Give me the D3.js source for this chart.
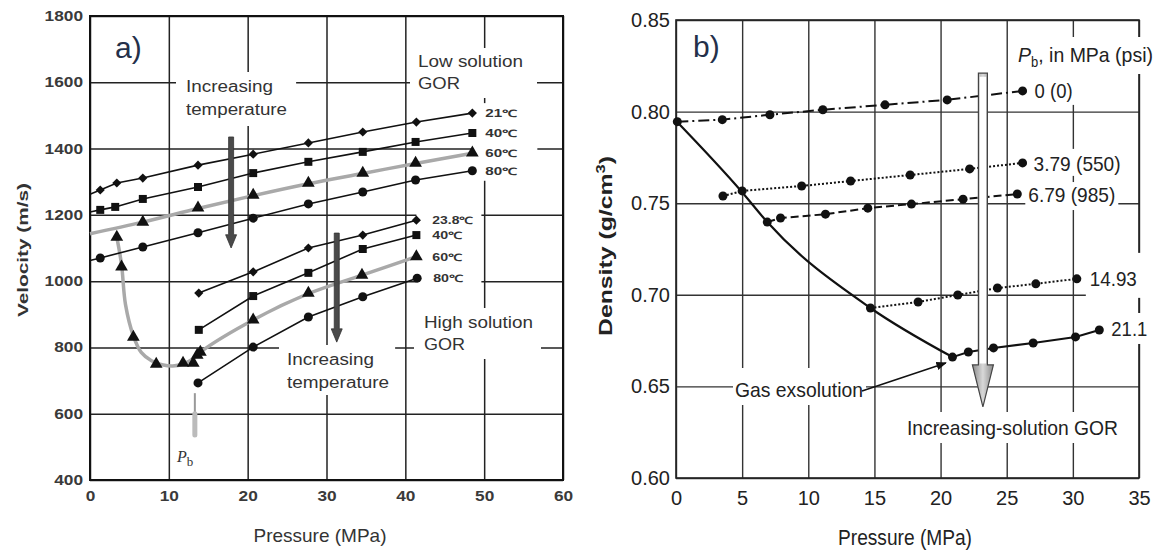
<!DOCTYPE html>
<html><head><meta charset="utf-8">
<script src="https://cdn.jsdelivr.net/npm/d3@7"></script>
<style>body{margin:0;background:#fff}svg{display:block}</style>
</head><body>
<svg id="c" width="1170" height="554"></svg>
<script>
// ---------- Panel a) velocity data ----------
const velXTicks = [0,10,20,30,40,50,60];
const velYTicks = [400,600,800,1000,1200,1400,1600,1800];
const low21 = [[1.3,1275],[3.4,1296],[6.7,1311],[13.7,1350],[20.7,1383],[27.7,1417],[34.6,1450],[41.4,1480],[48.5,1507]];
const low40 = [[1.3,1215],[3.2,1224],[6.7,1248],[13.7,1284],[20.7,1326],[27.7,1360],[34.6,1390],[41.3,1420],[48.5,1447]];
const low60 = [[6.7,1178],[13.7,1221],[20.7,1260],[27.7,1296],[34.6,1326],[41.3,1356],[48.5,1387]];
const low60Trend = [[0,1143],[6.7,1178],[13.7,1219],[20.7,1258],[27.7,1294],[34.6,1325],[41.3,1355],[48.5,1386]];
const low80 = [[1.3,1070],[6.7,1103],[13.7,1146],[20.7,1190],[27.7,1233],[34.6,1269],[41.3,1305],[48.5,1333]];
const high23 = [[13.8,964],[20.7,1028],[27.7,1100],[34.6,1139],[41.4,1184]];
const high40 = [[13.8,853],[20.7,955],[27.7,1025],[34.6,1097],[41.4,1139]];
const high60 = [[3.4,1133],[4.0,1043],[5.5,831],[8.4,750],[11.8,753],[13.1,753],[13.6,777],[14,786],[20.7,883],[27.7,964],[34.5,1018],[41.4,1074]];
const high60Trend = [[3.4,1133],[4.0,1050],[4.5,930],[5.5,835],[6.5,785],[7.8,760],[9.3,747],[10.5,744],[11.8,750],[13.1,766],[14,786],[20.7,883],[27.7,962],[34.5,1018],[41.4,1074]];
const high80 = [[13.7,693],[20.7,801],[27.7,892],[34.6,953],[41.5,1009]];
const lowLabels = ["21\u2103","40\u2103","60\u2103","80\u2103"];
const highLabels = ["23.8\u2103","40\u2103","60\u2103","80\u2103"];
const bubblePressure = 13.3;

// ---------- Panel b) density data ----------
const denXTicks = [0,5,10,15,20,25,30,35];
const denYTicks = [0.60,0.65,0.70,0.75,0.80,0.85];
const pb0    = [[0.1,0.7945],[3.5,0.7956],[7.1,0.7983],[11.1,0.801],[15.8,0.8037],[20.5,0.8064],[26.2,0.8113]];
const pb379  = [[3.55,0.7539],[5,0.7567],[9.5,0.7594],[13.2,0.7621],[17.7,0.7654],[22.2,0.7687],[26.2,0.772]];
const pb679  = [[6.9,0.7397],[7.9,0.7419],[11.3,0.744],[14.5,0.7473],[17.8,0.7495],[21.7,0.7522],[25.8,0.755]];
const pb1493 = [[14.7,0.6928],[18.3,0.6961],[21.3,0.6999],[24.3,0.7037],[27.2,0.706],[30.3,0.7087]];
const pb211  = [[20.9,0.666],[22.1,0.6688],[24.0,0.671],[27.0,0.6737],[30.2,0.677],[32.0,0.6808]];
const bubbleCurve = [[0,0.795],[5,0.756],[6.9,0.7397],[14.7,0.6928],[20.9,0.666]];
const pbLabels = ["0 (0)","3.79 (550)","6.79 (985)","14.93","21.1"];

// ---------- helpers ----------
const svg = d3.select('#c');
const LF = '"Liberation Sans", Arial, Helvetica, sans-serif';
const NF = '"Liberation Sans Narrow", "Liberation Sans", Arial, sans-serif';

function addText(parent, str, x, y, o = {}) {
  const t = parent.append('text').attr('x', x).attr('y', y)
    .style('font-family', o.family || LF).style('font-size', (o.size || 14) + 'px')
    .style('font-weight', o.weight || 'normal').style('fill', o.fill || '#222')
    .attr('text-anchor', o.anchor || 'start').text(str);
  if (o.width) t.attr('textLength', o.width).attr('lengthAdjust', 'spacingAndGlyphs');
  if (o.rotate) t.attr('transform', `rotate(${o.rotate},${x},${y})`);
  return t;
}
function addBg(layer, nodes, l, t, r, b) {
  let x0 = 1e9, y0 = 1e9, x1 = -1e9, y1 = -1e9;
  nodes.forEach(n => { const bb = n.node().getBBox(); x0 = Math.min(x0, bb.x); y0 = Math.min(y0, bb.y); x1 = Math.max(x1, bb.x + bb.width); y1 = Math.max(y1, bb.y + bb.height); });
  layer.append('rect').attr('x', x0 - l).attr('y', y0 - t).attr('width', x1 - x0 + l + r).attr('height', y1 - y0 + t + b).attr('fill', '#fff');
}
function downArrow(layer, cx, yTop, yHead, yTip, sw, hw, fill, stroke, swidth) {
  const p = d3.path();
  p.moveTo(cx - sw / 2, yTop); p.lineTo(cx + sw / 2, yTop); p.lineTo(cx + sw / 2, yHead);
  p.lineTo(cx + hw / 2, yHead); p.lineTo(cx, yTip); p.lineTo(cx - hw / 2, yHead);
  p.lineTo(cx - sw / 2, yHead); p.closePath();
  return layer.append('path').attr('d', p.toString()).attr('fill', fill).attr('stroke', stroke).attr('stroke-width', swidth);
}

// ================= PANEL A =================
const xL = d3.scaleLinear().domain([0, 60]).range([90, 563]);
const yL = d3.scaleLinear().domain([400, 1800]).range([480, 16]);
const gA = svg.append('g');
const aGrid = gA.append('g'), aBg = gA.append('g'), aData = gA.append('g'), aText = gA.append('g');

const axXA = aGrid.append('g').attr('transform', 'translate(0,480)')
  .call(d3.axisBottom(xL).tickValues(velXTicks).tickSize(-464).tickPadding(11).tickFormat(d3.format('d')));
const axYA = aGrid.append('g').attr('transform', 'translate(90,0)')
  .call(d3.axisLeft(yL).tickValues(velYTicks).tickSize(-473).tickPadding(7).tickFormat(d3.format('d')));
[axXA, axYA].forEach(ax => {
  ax.select('.domain').remove();
  ax.selectAll('.tick line').attr('stroke', '#222').attr('stroke-width', 1.5);
  ax.selectAll('.tick text').style('font-family', LF).style('font-size', '14px').style('font-weight', 'bold').style('fill', '#3a3a3a')
    .attr('textLength', d => String(d).length * 9.6).attr('lengthAdjust', 'spacingAndGlyphs');
});
aGrid.append('rect').attr('x', xL(0)).attr('y', yL(1800)).attr('width', xL(60) - xL(0)).attr('height', yL(400) - yL(1800))
  .attr('fill', 'none').attr('stroke', '#111').attr('stroke-width', 2);

// texts with white backgrounds
addText(aText, 'a)', 115, 58, { size: 30, fill: '#24304a' });
const it1 = addText(aText, 'Increasing', 186, 92, { size: 16, width: 87, fill: '#333' });
const it2 = addText(aText, 'temperature', 186, 115, { size: 16, width: 101, fill: '#333' });
addBg(aBg, [it1, it2], 10, 6, 9, 8);
const ls1 = addText(aText, 'Low solution', 418, 67, { size: 16, width: 105, fill: '#333' });
const ls2 = addText(aText, 'GOR', 418, 89, { size: 16, width: 42, fill: '#333' });
addBg(aBg, [ls1, ls2], 8, 5, 14, 6);
const hs1 = addText(aText, 'High solution', 424, 328, { size: 16, width: 109, fill: '#333' });
const hs2 = addText(aText, 'GOR', 424, 350, { size: 16, width: 41, fill: '#333' });
addBg(aBg, [hs1, hs2], 10, 6, 8, 6);
const it3 = addText(aText, 'Increasing', 287, 365, { size: 16, width: 87, fill: '#333' });
const it4 = addText(aText, 'temperature', 287, 388, { size: 16, width: 102, fill: '#333' });
addBg(aBg, [it3, it4], 8, 6, 6, 4);

// series labels
const lowLast = [low21, low40, low60, low80].map(s => s[s.length - 1]);
const lowLbl = lowLabels.map((s, i) => addText(aText, s, xL(lowLast[i][0]) + 13, yL(lowLast[i][1]) + 4, { size: 10, weight: 'bold', width: 32, fill: '#333' }));
addBg(aBg, lowLbl, 13, 5, 20, 4);
const highLast = [high23, high40, high60, high80].map(s => s[s.length - 1]);
const highLbl = highLabels.map((s, i) => addText(aText, s, xL(highLast[i][0]) + 16, yL(highLast[i][1]) + 4, { size: 10, weight: 'bold', width: i === 0 ? 41 : 30, fill: '#333' }));
addBg(aBg, highLbl, 16, 4, 8, 2);

// axis titles
addText(aText, 'Pressure (MPa)', 320, 542, { size: 19, anchor: 'middle', fill: '#333' });
addText(aText, 'Velocity (m/s)', 28, 250, { size: 14, weight: 'bold', anchor: 'middle', rotate: -90, width: 134, fill: '#333' });

// Pb label
const pbT = aText.append('text').attr('x', 177).attr('y', 462).style('font-family', '"Liberation Serif", serif').style('fill', '#333');
pbT.append('tspan').text('P').style('font-style', 'italic').style('font-size', '16px');
pbT.append('tspan').text('b').attr('dy', 4).style('font-size', '13px');

// data lines
const lineA = d3.line().x(d => xL(d[0])).y(d => yL(d[1]));
const smoothA = d3.line().x(d => xL(d[0])).y(d => yL(d[1])).curve(d3.curveCatmullRom.alpha(0.5));
aData.append('path').datum(low60Trend).attr('d', smoothA).attr('fill', 'none').attr('stroke', '#a9a9a9').attr('stroke-width', 3.5);
aData.append('path').datum(high60Trend).attr('d', smoothA).attr('fill', 'none').attr('stroke', '#a9a9a9').attr('stroke-width', 3.5);
[low21, low40, low80].forEach(s => aData.append('path').datum([[0, s[0][1] - (s[1][1] - s[0][1]) / (s[1][0] - s[0][0]) * s[0][0]]].concat(s))
  .attr('d', lineA).attr('fill', 'none').attr('stroke', '#111').attr('stroke-width', 1.6));
[high23, high40, high80].forEach(s => aData.append('path').datum(s).attr('d', lineA).attr('fill', 'none').attr('stroke', '#111').attr('stroke-width', 1.6));

function markers(data, type, size, rot) {
  aData.selectAll(null).data(data).join('path')
    .attr('d', d3.symbol().type(type).size(size))
    .attr('transform', d => `translate(${xL(d[0])},${yL(d[1])}) rotate(${rot})`).attr('fill', '#111');
}
markers(low21, d3.symbolSquare, 42, 45); markers(high23, d3.symbolSquare, 42, 45);
markers(low40, d3.symbolSquare, 64, 0); markers(high40, d3.symbolSquare, 64, 0);
markers(low60, d3.symbolTriangle, 70, 0); markers(high60, d3.symbolTriangle, 70, 0);
markers(low80, d3.symbolCircle, 64, 0); markers(high80, d3.symbolCircle, 64, 0);

// temperature arrows
downArrow(aData, xL(17.9), yL(1435), yL(1140), yL(1100), 5, 11, '#4a4a4a', '#333', 0.8);
downArrow(aData, xL(31.3), yL(1145), yL(856), yL(816), 5, 11, '#4a4a4a', '#333', 0.8);
// bubble-point gray marker
aData.append('line').attr('x1', xL(bubblePressure)).attr('x2', xL(bubblePressure)).attr('y1', yL(662)).attr('y2', yL(540)).attr('stroke', '#999').attr('stroke-width', 2);
aData.append('line').attr('x1', xL(bubblePressure)).attr('x2', xL(bubblePressure)).attr('y1', yL(600)).attr('y2', yL(536)).attr('stroke', '#bbb').attr('stroke-width', 5).attr('stroke-linecap', 'round');

// ================= PANEL B =================
const xR = d3.scaleLinear().domain([0, 35]).range([676, 1139]);
const yR = d3.scaleLinear().domain([0.60, 0.85]).range([478, 20]);
const gB = svg.append('g');
const bGrid = gB.append('g'), bBg = gB.append('g'), bData = gB.append('g'), bText = gB.append('g');

const axXB = bGrid.append('g').attr('transform', 'translate(0,478)')
  .call(d3.axisBottom(xR).tickValues(denXTicks).tickSize(-458).tickPadding(13).tickFormat(d3.format('d')));
const axYB = bGrid.append('g').attr('transform', 'translate(676,0)')
  .call(d3.axisLeft(yR).tickValues(denYTicks).tickSize(-463).tickPadding(6).tickFormat(d3.format('.2f')));
[axXB, axYB].forEach(ax => {
  ax.select('.domain').remove();
  ax.selectAll('.tick line').attr('stroke', '#333').attr('stroke-width', 1.4);
  ax.selectAll('.tick text').style('font-family', NF).style('font-size', '20px').style('fill', '#222');
});
bGrid.append('rect').attr('x', xR(0)).attr('y', yR(0.85)).attr('width', xR(35) - xR(0)).attr('height', yR(0.60) - yR(0.85))
  .attr('fill', 'none').attr('stroke', '#222').attr('stroke-width', 1.6);

addText(bText, 'b)', 693, 57, { size: 30, fill: '#24304a' });
const pbHead = bText.append('text').attr('x', 1018).attr('y', 62).style('font-family', NF).style('font-size', '21px').style('fill', '#222')
  .attr('textLength', 135).attr('lengthAdjust', 'spacingAndGlyphs');
pbHead.append('tspan').text('P').style('font-style', 'italic');
pbHead.append('tspan').text('b').attr('dy', 5).style('font-size', '14px');
pbHead.append('tspan').text(', in MPa (psi)').attr('dy', -5);
addBg(bBg, [pbHead], 4, 6, 4, 4);

const pbSeries = [pb0, pb379, pb679, pb1493, pb211];
const pbOff = [[12, 7], [11, 8], [11, 8], [13, 7], [12, 6]];
const pbW = [38, 87, 87, 47, 36];
const pbPad = [[3, 6, 3, 3], [3, 3, 3, 1], [3, 1, 3, 4], [4, 14, 6, 8], [3, 4, 3, 4]];
pbSeries.forEach((s, i) => {
  const last = s[s.length - 1];
  const t = addText(bText, pbLabels[i], xR(last[0]) + pbOff[i][0], yR(last[1]) + pbOff[i][1], { family: NF, size: 21, width: pbW[i] });
  addBg(bBg, [t], ...pbPad[i]);
});
const gasT = addText(bText, 'Gas exsolution', 735, 397, { family: NF, size: 21, width: 128 });
addBg(bBg, [gasT], 2, 10, 3, 4);
const incT = addText(bText, 'Increasing-solution GOR', 907, 435, { family: NF, size: 21, width: 211 });
addBg(bBg, [incT], 3, 4, 3, 4);
addText(bText, 'Pressure (MPa)', 838, 545, { family: NF, size: 22, width: 134 });
const denT = bText.append('text').attr('x', 612).attr('y', 246).attr('text-anchor', 'middle')
  .attr('transform', 'rotate(-90,612,246)').style('font-family', LF).style('font-size', '18px').style('font-weight', 'bold').style('fill', '#222')
  .attr('textLength', 180).attr('lengthAdjust', 'spacingAndGlyphs');
denT.append('tspan').text('Density (g/cm');
denT.append('tspan').text('3').attr('dy', -7).style('font-size', '12px');
denT.append('tspan').text(')').attr('dy', 7);

const lineB = d3.line().x(d => xR(d[0])).y(d => yR(d[1]));
const dashes = ['11,4,2,4', '2,2', '8,4', '2,2', null];
pbSeries.forEach((s, i) => {
  const p = bData.append('path').datum(s).attr('d', lineB).attr('fill', 'none').attr('stroke', '#111').attr('stroke-width', 2);
  if (dashes[i]) p.attr('stroke-dasharray', dashes[i]);
  bData.selectAll(null).data(s).join('circle').attr('cx', d => xR(d[0])).attr('cy', d => yR(d[1])).attr('r', 4.5).attr('fill', '#111');
});
bData.append('path').datum(bubbleCurve).attr('d', lineB.curve(d3.curveMonotoneX)).attr('fill', 'none').attr('stroke', '#111').attr('stroke-width', 2.2);

// gas exsolution arrow
const defs = svg.append('defs');
defs.append('marker').attr('id', 'ah').attr('viewBox', '0 0 10 10').attr('refX', 9).attr('refY', 5)
  .attr('markerWidth', 7).attr('markerHeight', 7).attr('orient', 'auto-start-reverse')
  .append('path').attr('d', 'M0,1 L10,5 L0,9 z').attr('fill', '#111');
bData.append('line').attr('x1', xR(14.06)).attr('y1', yR(0.6475)).attr('x2', xR(20.4)).attr('y2', yR(0.6628))
  .attr('stroke', '#111').attr('stroke-width', 1.5).attr('marker-end', 'url(#ah)');

// big increasing-GOR arrow
const grad = defs.append('linearGradient').attr('id', 'ag').attr('x1', 0).attr('x2', 1).attr('y1', 0).attr('y2', 0);
grad.append('stop').attr('offset', 0).attr('stop-color', '#8a8a8a');
grad.append('stop').attr('offset', 0.5).attr('stop-color', '#d8d8d8');
grad.append('stop').attr('offset', 1).attr('stop-color', '#8a8a8a');
downArrow(bData, xR(23.2), yR(0.821), yR(0.6617), yR(0.6388), 9, 21, 'url(#ag)', '#444', 1.2);
bData.append('rect').attr('x', xR(23.2) - 3.2).attr('y', yR(0.819)).attr('width', 6.4).attr('height', yR(0.6625) - yR(0.819)).attr('fill', '#fff');
</script>
</body></html>
